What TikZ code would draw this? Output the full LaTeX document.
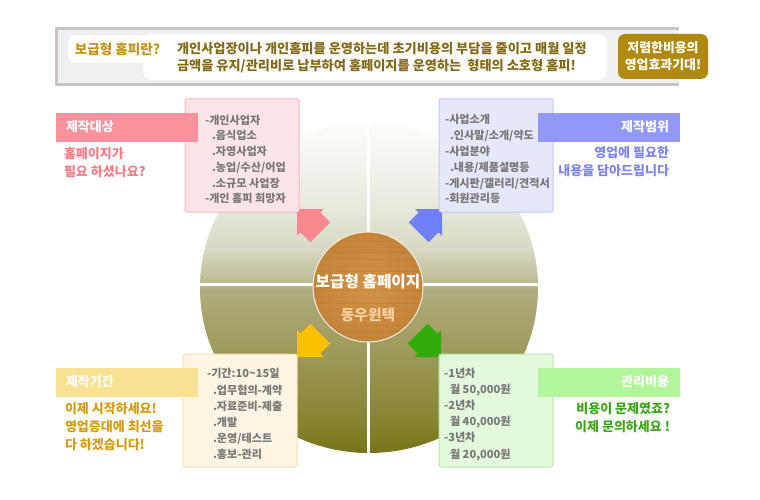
\documentclass[tikz,border=0pt]{standalone}
\usepackage{fontspec}
\setmainfont{Noto Sans CJK KR}
\definecolor{frameGray}{HTML}{C8C4C4}
\definecolor{bannerBg}{HTML}{F0F0F0}
\definecolor{goldLt}{HTML}{C39416}
\definecolor{goldDk}{HTML}{856A16}
\definecolor{goldBox}{HTML}{B08A0E}
\definecolor{pinkBand}{HTML}{F9929A}
\definecolor{pinkText}{HTML}{F37C86}
\definecolor{pinkFill}{HTML}{FDE5E7}
\definecolor{pinkLine}{HTML}{F5B7BC}
\definecolor{pinkArrow}{HTML}{FA8890}
\definecolor{blueBand}{HTML}{9198F7}
\definecolor{blueText}{HTML}{7D86F0}
\definecolor{blueFill}{HTML}{E5E7FB}
\definecolor{blueLine}{HTML}{C3C7F3}
\definecolor{blueArrow}{HTML}{6F80FA}
\definecolor{yelBand}{HTML}{F9E194}
\definecolor{yelText}{HTML}{D49C10}
\definecolor{yelFill}{HTML}{FDF5E2}
\definecolor{yelLine}{HTML}{F1E2B4}
\definecolor{yelArrow}{HTML}{FCC000}
\definecolor{grnBand}{HTML}{B2F59A}
\definecolor{grnText}{HTML}{3FA51C}
\definecolor{grnFill}{HTML}{E3F9DB}
\definecolor{grnLine}{HTML}{BDE6AE}
\definecolor{grnArrow}{HTML}{30AB0A}
\definecolor{grayT}{HTML}{777777}
\definecolor{wood}{HTML}{C4843A}
\definecolor{woodIn}{HTML}{D29247}
\definecolor{woodDk}{HTML}{A86C2C}
\definecolor{peach}{HTML}{F8D2A4}
\definecolor{dA}{HTML}{78741A}
\definecolor{dB}{HTML}{888432}
\definecolor{dC}{HTML}{9E9A5C}
\definecolor{dD}{HTML}{B0AD80}
\definecolor{dE}{HTML}{C4C2A0}
\definecolor{dF}{HTML}{D8D8C4}
\definecolor{dG}{HTML}{EAEAE0}
\definecolor{dH}{HTML}{F5F5F0}
\definecolor{dI}{HTML}{FCFCFA}
\begin{document}
\begin{tikzpicture}[x=1pt,y=-1pt,
  every node/.style={inner sep=0pt,outer sep=0pt},
  boxtxt/.style={anchor=west, font=\bfseries\fontsize{11.1}{13}\selectfont, text=grayT, text height=8.5pt, text depth=2pt},
  bandtxt/.style={font=\bfseries\fontsize{13}{15}\selectfont, text=white, text height=9.5pt, text depth=2pt},
  subtxt/.style={font=\bfseries\fontsize{13}{15}\selectfont, text height=9.5pt, text depth=2pt},
  bantxt/.style={anchor=west, font=\bfseries\fontsize{13.2}{15}\selectfont, text=goldDk, text height=9.5pt, text depth=2pt},
  infobox/.style={anchor=north west, minimum width=114, minimum height=113, line width=1, rounded corners=2},
  band/.style={anchor=north west, minimum width=142, minimum height=29},
  blockarrow/.pic={\fill[pic actions] (0,0) -- (-19,19) -- (-19,14) -- (-33,14) -- (-33,-14) -- (-19,-14) -- (-19,-19) -- cycle;}
]
\useasboundingbox (0,0) rectangle (760,500);
\fill[white] (0,0) rectangle (760,500);

% ---------- banner ----------
\fill[bannerBg] (55,27) rectangle (679,86);
\draw[frameGray, line width=3] (679,28.5) -- (56.5,28.5) -- (56.5,84.5) -- (679,84.5);
\path[fill=white, draw=black!9, rounded corners=6] (68,35) rectangle (160,63);
\path[fill=white, draw=black!9, rounded corners=7] (143,34) rectangle (607,80);
\fill[white] (140,35.6) rectangle (160,62.4);
\node[font=\bfseries\fontsize{13.6}{15}\selectfont, text=goldLt, text height=9.5pt, text depth=2pt] (bq) at (117.5,51) {보급형 홈피란?};
\node[bantxt] (bl1) at (177,50) {개인사업장이나 개인홈피를 운영하는데 초기비용의 부담을 줄이고 매월 일정};
\node[bantxt] (bl2) at (177,67) {금액을 유지/관리비로 납부하여 홈페이지를 운영하는\ \ 형태의 소호형 홈피!};
\node[fill=goldBox, rounded corners=7, minimum width=90, minimum height=45, anchor=north west] (gb) at (618,34) {};
\node[font=\bfseries\fontsize{12.9}{15}\selectfont, text=white, text height=9.5pt, text depth=2pt] (gb1) at (663,49) {저렴한비용의};
\node[font=\bfseries\fontsize{12.9}{15}\selectfont, text=white, text height=9.5pt, text depth=2pt] (gb2) at (663,66) {영업효과기대!};

% ---------- disk ----------
\begin{scope}
  \clip (369,288) ellipse [x radius=169, y radius=165];
  \foreach \ya/\yb/\ca/\cb in {122/160/dI/dH,160/200/dH/dG,200/250/dG/dF,250/275/dF/dE,275/290/dE/dD,290/350/dD/dC,350/420/dC/dB,420/454/dB/dA}{
    \pgfmathtruncatemacro{\N}{(\yb-\ya)/2}
    \foreach \k in {0,...,\N}{
      \pgfmathsetmacro{\t}{100*\k/\N}
      \pgfmathsetmacro{\yy}{\ya+(\yb-\ya)*\k/\N}
      \fill[\cb!\t!\ca] (195,\yy-1.3) rectangle (545,\yy+1.3);
    }
  }
  \draw[white, line width=3] (368,110) -- (368,470);
  \draw[white, line width=3] (190,284) -- (550,284);
\end{scope}

% ---------- hub ----------
\node[circle, minimum size=110, inner color=woodIn, outer color=wood] (hub) at (368,287) {};
\begin{scope}
  \clip (368,287) circle (55);
  \foreach \yy/\op in {236/0.25,241/0.4,247/0.2,252/0.35,259/0.3,266/0.2,271/0.4,278/0.25,290/0.3,297/0.2,303/0.35,310/0.25,318/0.3,325/0.2,331/0.35,337/0.25}
    \draw[woodDk, line width=0.7, opacity=\op] (310,\yy) -- (426,\yy+0.6);
\end{scope}
\draw[white!85!wood, line width=1] (hub.center) circle (55);
\node[font=\bfseries\fontsize{15.7}{17}\selectfont, text=white] (hubt) at (368,282) {보급형 홈페이지};
\node[font=\bfseries\fontsize{14.8}{17}\selectfont, text=peach] (hubs) at (368,315) {동우윈텍};

% ---------- arrows ----------
\pic[fill=pinkArrow, shift={(297,209)}, rotate=135] (ar1) {blockarrow};
\pic[fill=blueArrow, shift={(442,209)}, rotate=45] (ar2) {blockarrow};
\pic[fill=yelArrow, shift={(297,357)}, rotate=225] (ar3) {blockarrow};
\pic[fill=grnArrow, shift={(441,357)}, rotate=-45] (ar4) {blockarrow};

% ---------- info boxes ----------
\node[infobox, fill=pinkFill, draw=pinkLine] (pbox) at (185,99) {};
\node[boxtxt] (p1) at (205,121) {-개인사업자};
\node[boxtxt] (p2) at (212,136.5) {.음식업소};
\node[boxtxt] (p3) at (212,152.5) {.자영사업자};
\node[boxtxt] (p4) at (212,168.5) {.농업/수산/어업};
\node[boxtxt] (p5) at (212,184) {.소규모 사업장};
\node[boxtxt] (p6) at (205,199.5) {-개인 홈피 희망자};

\node[infobox, fill=blueFill, draw=blueLine] (bbox) at (439,99) {};
\node[boxtxt] (q1) at (445,120.5) {-사업소개};
\node[boxtxt] (q2) at (450,136) {.인사말/소개/약도};
\node[boxtxt] (q3) at (445,152) {-사업분야};
\node[boxtxt] (q4) at (450,168.5) {.내용/제품설명등};
\node[boxtxt] (q5) at (445,184) {-게시판/갤러리/견적서};
\node[boxtxt] (q6) at (445,199) {-회원관리등};

\node[infobox, fill=yelFill, draw=yelLine] (ybox) at (183,354) {};
\node[boxtxt] (y1) at (207,374.5) {-기간:10\textasciitilde15일};
\node[boxtxt] (y2) at (213,391) {.업무협의-계약};
\node[boxtxt] (y3) at (213,407) {.자료준비-제출};
\node[boxtxt] (y4) at (213,423) {.개발};
\node[boxtxt] (y5) at (213,439) {.운영/테스트};
\node[boxtxt] (y6) at (213,455.5) {.홍보-관리};

\node[infobox, fill=grnFill, draw=grnLine] (gbox) at (439,354) {};
\node[boxtxt] (g1) at (444,374.5) {-1년차};
\node[boxtxt] (g2) at (450,390.5) {월 50,000원};
\node[boxtxt] (g3) at (444,406.5) {-2년차};
\node[boxtxt] (g4) at (450,422.5) {월 40,000원};
\node[boxtxt] (g5) at (444,438.5) {-3년차};
\node[boxtxt] (g6) at (450,455) {월 20,000원};

% ---------- bands ----------
\node[band, fill=pinkBand] (pb) at (56,113) {};
\node[bandtxt, anchor=west] (pbt) at (66,127.5) {제작대상};
\node[subtxt, anchor=west, text=pinkText] (ps1) at (64,155) {홈페이지가};
\node[subtxt, anchor=west, text=pinkText] (ps2) at (64,173) {필요 하셨나요?};

\node[band, fill=blueBand] (bb) at (538,113) {};
\node[bandtxt, anchor=east] (bbt) at (669,127.5) {제작범위};
\node[subtxt, anchor=east, text=blueText] (bs1) at (669,153.5) {영업에 필요한};
\node[subtxt, anchor=east, text=blueText] (bs2) at (669,171.5) {내용을 담아드립니다};

\node[band, fill=yelBand] (yb) at (56,368) {};
\node[bandtxt, anchor=west] (ybt) at (66,382.5) {제작기간};
\node[subtxt, anchor=west, text=yelText] (ys1) at (65,410) {이제 시작하세요!};
\node[subtxt, anchor=west, text=yelText] (ys2) at (65,428) {영업증대에 최선을};
\node[subtxt, anchor=west, text=yelText] (ys3) at (65,446) {다 하겠습니다!};

\node[band, fill=grnBand] (gbd) at (538,368) {};
\node[bandtxt, anchor=east] (gbt) at (669,382.5) {관리비용};
\node[subtxt, anchor=east, text=grnText] (gs1) at (670,410) {비용이 문제였죠?};
\node[subtxt, anchor=east, text=grnText] (gs2) at (670,428) {이제 문의하세요 !};
\end{tikzpicture}
\end{document}
